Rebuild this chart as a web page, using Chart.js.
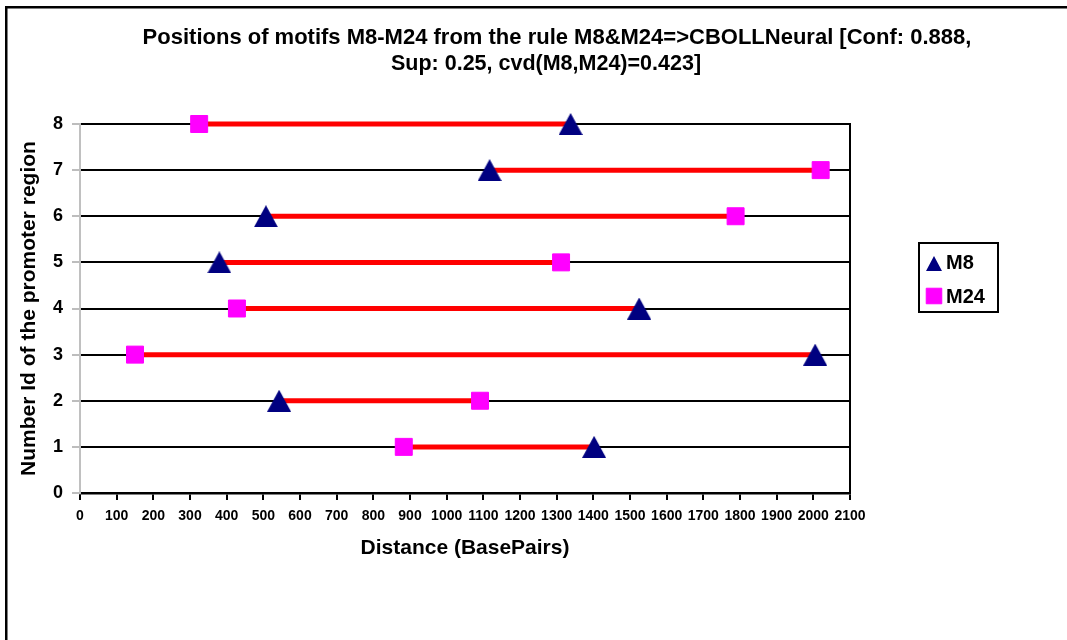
<!DOCTYPE html>
<html>
<head>
<meta charset="utf-8">
<script src="https://cdn.jsdelivr.net/npm/chart.js@4"></script>
<style>
html,body{margin:0;padding:0;background:#fff;}
#wrap{position:absolute;left:0;top:0;width:1067px;height:640px;}
</style>
</head>
<body>
<div id="wrap"><canvas id="c" width="1067" height="640"></canvas></div>
<script>
// ---- data ----
const rowIds = [1, 2, 3, 4, 5, 6, 7, 8];
const m8Pos  = [1402, 543, 2005, 1525, 380, 507, 1117, 1338];
const m24Pos = [883, 1091, 150, 428, 1312, 1788, 2020, 325];
const seriesNames = ['M8', 'M24'];
const titleLines = ['Positions of motifs M8-M24 from the rule M8&M24=>CBOLLNeural [Conf: 0.888,', 'Sup: 0.25, cvd(M8,M24)=0.423]'];
const xTitle = 'Distance (BasePairs)';
const yTitle = 'Number Id of the promoter region';
const xMin = 0, xMax = 2100, xStep = 100;
const yMin = 0, yMax = 8, yStep = 1;

const FONT = '"Liberation Sans", Arial, Helvetica, sans-serif';

function makeTriangle(w, h, color) {
  const c = document.createElement('canvas');
  c.width = w; c.height = h;
  const g = c.getContext('2d');
  g.fillStyle = color;
  g.beginPath();
  g.moveTo(w / 2, 0);
  g.lineTo(w, h);
  g.lineTo(0, h);
  g.closePath();
  g.fill();
  return c;
}
const triBig = makeTriangle(24, 22, '#000080');
const triSmall = makeTriangle(16, 15, '#000080');

const lineSets = rowIds.map((r, i) => ({
  type: 'line',
  label: 'link' + r,
  data: [{x: m24Pos[i], y: r}, {x: m8Pos[i], y: r}],
  borderColor: '#FF0000',
  borderWidth: 5,
  pointRadius: 0,
  fill: false,
  clip: false,
  order: 3
}));

const m8Set = {
  type: 'scatter',
  label: seriesNames[0],
  data: rowIds.map((r, i) => ({x: m8Pos[i], y: r})),
  pointStyle: triBig,
  pointRadius: 12,
  backgroundColor: '#000080',
  borderColor: '#000080',
  clip: false,
  order: 1
};
const m24Set = {
  type: 'scatter',
  label: seriesNames[1],
  data: rowIds.map((r, i) => ({x: m24Pos[i], y: r})),
  pointStyle: 'rect',
  pointRadius: 12,
  backgroundColor: '#FF00FF',
  borderColor: '#FF00FF',
  borderWidth: 1,
  clip: false,
  order: 2
};

const decor = {
  id: 'decor',
  afterDraw(chart) {
    const ctx = chart.ctx;
    const ca = chart.chartArea;
    ctx.save();
    // outer frame (left & top edges)
    ctx.strokeStyle = '#000';
    ctx.lineWidth = 2.5;
    ctx.beginPath();
    ctx.moveTo(6.25, 640);
    ctx.lineTo(6.25, 7.25);
    ctx.lineTo(1067, 7.25);
    ctx.stroke();
    // plot right border
    ctx.lineWidth = 2;
    ctx.beginPath();
    ctx.moveTo(ca.right, ca.top - 1);
    ctx.lineTo(ca.right, ca.bottom + 1);
    ctx.stroke();
    // title
    ctx.fillStyle = '#000';
    ctx.textAlign = 'center';
    ctx.textBaseline = 'alphabetic';
    ctx.font = 'bold 22px ' + FONT;
    ctx.fillText(titleLines[0], 557, 44);
    ctx.font = 'bold 21.5px ' + FONT;
    ctx.fillText(titleLines[1], 546, 70);
    // legend box
    ctx.lineWidth = 2;
    ctx.strokeStyle = '#000';
    ctx.strokeRect(919, 243, 79, 69);
    // markers
    ctx.drawImage(triSmall, 926, 256);
    ctx.lineWidth = 1;
    ctx.fillStyle = '#FF00FF'; ctx.strokeStyle = '#FF00FF';
    Chart.helpers.drawPoint(ctx, {pointStyle: 'rect', radius: 11, rotation: 0, borderWidth: 1}, 934, 296);
    ctx.fillStyle = '#000';
    ctx.font = 'bold 20px ' + FONT;
    ctx.textAlign = 'left';
    ctx.textBaseline = 'middle';
    ctx.fillText(seriesNames[0], 946, 263);
    ctx.fillText(seriesNames[1], 946, 297);
    ctx.restore();
  }
};

new Chart(document.getElementById('c'), {
  data: { datasets: [...lineSets, m24Set, m8Set] },
  options: {
    responsive: false,
    animation: false,
    events: [],
    layout: { padding: { left: 0, top: 124, right: 217, bottom: 79 } },
    plugins: { legend: { display: false }, title: { display: false }, tooltip: { enabled: false } },
    scales: {
      x: {
        type: 'linear',
        min: xMin, max: xMax,
        afterFit(s) { s.height = 68; },
        ticks: {
          stepSize: xStep, autoSkip: false, maxRotation: 0, minRotation: 0,
          color: '#000', padding: 8,
          font: { family: FONT, size: 14, weight: 'bold' },
          callback: (v) => String(v)
        },
        grid: { drawOnChartArea: false, drawTicks: true, tickLength: 7, tickColor: '#000', lineWidth: 2 },
        border: { display: true, color: '#000', width: 2.5 },
        title: {
          display: true, text: xTitle, color: '#000',
          font: { family: FONT, size: 21, weight: 'bold' },
          padding: { top: 0, bottom: 0 }
        }
      },
      y: {
        type: 'linear',
        min: yMin, max: yMax,
        afterFit(s) { s.width = 80; },
        ticks: {
          stepSize: yStep, color: '#000', padding: 9,
          font: { family: FONT, size: 18, weight: 'bold' },
          callback: (v) => String(v)
        },
        grid: { color: '#000', lineWidth: 2, tickLength: 8, tickColor: '#bdbdbd', drawTicks: true },
        border: { display: true, color: '#c0c0c0', width: 2 },
        title: {
          display: true, text: yTitle, color: '#000',
          font: { family: FONT, size: 21, weight: 'bold' },
          padding: { top: 17, bottom: 0 }
        }
      }
    }
  },
  plugins: [decor]
});
</script>
</body>
</html>
